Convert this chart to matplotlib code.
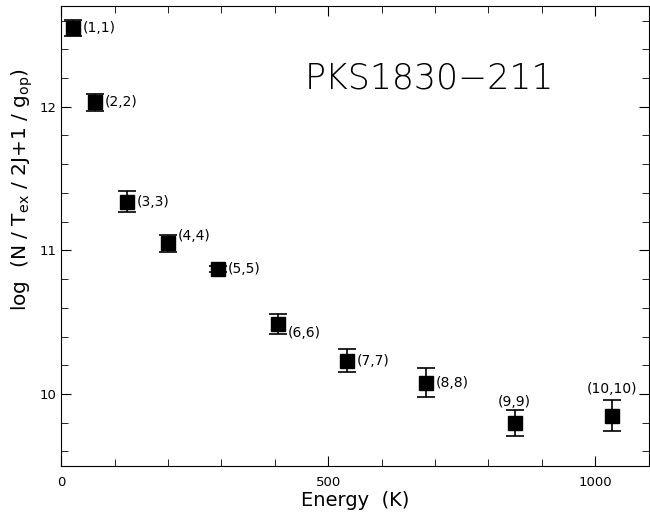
import matplotlib
matplotlib.use('Agg')
import matplotlib.pyplot as plt
from matplotlib.ticker import MultipleLocator

# (J,K) levels, energy above ground (K), log column and error
levels = ['(1,1)', '(2,2)', '(3,3)', '(4,4)', '(5,5)',
          '(6,6)', '(7,7)', '(8,8)', '(9,9)', '(10,10)']
energy = [22, 63, 123, 201, 293, 406, 536, 683, 849, 1032]
logN = [12.55, 12.03, 11.34, 11.05, 10.87, 10.49, 10.23, 10.08, 9.80, 9.85]
err = [0.055, 0.06, 0.07, 0.06, 0.02, 0.07, 0.08, 0.10, 0.09, 0.11]

plt.rcParams['font.family'] = 'DejaVu Sans'
plt.rcParams['mathtext.fontset'] = 'dejavusans'

fig = plt.figure(figsize=(6.5, 5.17), dpi=100)
ax = fig.add_axes([0.094, 0.099, 0.904, 0.889])

ax.errorbar(energy, logN, yerr=err, fmt='s', color='black', ms=10,
            ecolor='black', elinewidth=1.2, capsize=6.5, capthick=1.2)

# label offsets in points (dx, dy, ha, va)
offs = {
    '(4,4)': (7, 5, 'left', 'center'),
    '(6,6)': (7, -7, 'left', 'center'),
    '(9,9)': (0, 10, 'center', 'bottom'),
    '(10,10)': (0, 14, 'center', 'bottom'),
}
for lab, x, y in zip(levels, energy, logN):
    dx, dy, ha, va = offs.get(lab, (7, 0, 'left', 'center'))
    ax.annotate(lab, (x, y), xytext=(dx, dy), textcoords='offset points',
                ha=ha, va=va, fontsize=10)

ax.text(690, 12.2, 'PKS1830\u2212211', fontsize=25, ha='center', va='center',
        fontweight='light')

ax.set_xlim(0, 1100)
ax.set_ylim(9.5, 12.7)
ax.xaxis.set_major_locator(MultipleLocator(500))
ax.xaxis.set_minor_locator(MultipleLocator(100))
ax.yaxis.set_major_locator(MultipleLocator(1))
ax.yaxis.set_minor_locator(MultipleLocator(0.2))
ax.tick_params(which='both', direction='in', top=True, right=True,
               labelsize=9.5)
ax.tick_params(axis='x', pad=7)
ax.tick_params(which='major', length=7)
ax.tick_params(which='minor', length=5)

ax.set_xlabel('Energy  (K)', fontsize=14, labelpad=2)
ax.set_ylabel(r'log  (N / T$_{\rm ex}$ / 2J+1 / g$_{\rm op}$)', fontsize=14.5)
ax.yaxis.set_label_coords(-0.044, 0.60)

fig.savefig('out.png', dpi=100)
